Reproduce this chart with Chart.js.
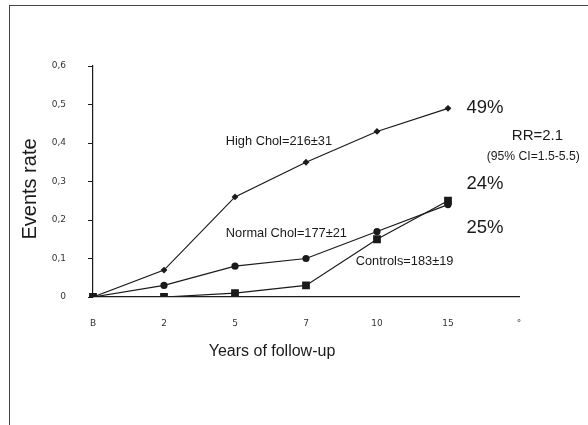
<!DOCTYPE html>
<html>
<head>
<meta charset="utf-8">
<script src="https://cdn.jsdelivr.net/npm/chart.js@4/dist/chart.umd.min.js"></script>
<style>
  body { margin: 0; background: #fff; }
  #wrap { position: relative; width: 588px; height: 425px; }
  #frame {
    position: absolute; left: 9px; top: 5px; right: 0; bottom: 0;
    border-left: 1.5px solid #444; border-top: 1.5px solid #444;
    pointer-events: none;
  }
</style>
</head>
<body>
<div id="wrap">
  <canvas id="chart"></canvas>
  <div id="frame"></div>
</div>
<script>
const years = ['B', '2', '5', '7', '10', '15', '°']
const highChol = [0, 0.07, 0.26, 0.35, 0.43, 0.49]
const normalChol = [0, 0.03, 0.08, 0.10, 0.17, 0.24]
const controls = [0, 0, 0.01, 0.03, 0.15, 0.25]
const yTicks = [0, 0.1, 0.2, 0.3, 0.4, 0.5, 0.6]

// text notes placed in data space (x = category index, y = rate)
const notes = [
  { text: '49%', x: 5.26, y: 0.49, size: 18.5, align: 'left' },
  { text: '24%', x: 5.26, y: 0.293, size: 18.5, align: 'left' },
  { text: '25%', x: 5.26, y: 0.179, size: 18.5, align: 'left' },
  { text: 'RR=2.1', x: 6.26, y: 0.418, size: 15, align: 'center' },
  { text: '(95% CI=1.5-5.5)', x: 6.2, y: 0.364, size: 12.2, align: 'center' },
  { text: 'High Chol=216±31', x: 1.87, y: 0.403, size: 12.8, align: 'left' },
  { text: 'Normal Chol=177±21', x: 1.87, y: 0.164, size: 12.8, align: 'left' },
  { text: 'Controls=183±19', x: 3.7, y: 0.091, size: 12.8, align: 'left' }
]

const ink = '#1a1a1a'
const sans = "'Liberation Sans', Arial, sans-serif"

const notesPlugin = {
  id: 'notes',
  afterDraw(chart) {
    const { ctx, chartArea, scales: { x, y } } = chart
    ctx.save()
    ctx.fillStyle = ink
    ctx.textBaseline = 'middle'
    notes.forEach(n => {
      ctx.font = n.size + 'px ' + sans
      ctx.textAlign = n.align
      ctx.fillText(n.text, x.getPixelForValue(n.x), y.getPixelForValue(n.y))
    })

    // axis titles
    ctx.font = '16px ' + sans
    ctx.textAlign = 'center'
    ctx.fillText('Years of follow-up', chartArea.left + 179, chartArea.bottom + 55)

    ctx.translate(30, chartArea.top + 123)
    ctx.rotate(-Math.PI / 2)
    ctx.font = '20px ' + sans
    ctx.fillText('Events rate', 0, 0)
    ctx.restore()
  }
}

function series(data, style, radius) {
  return {
    data,
    borderColor: ink,
    backgroundColor: ink,
    borderWidth: 1.2,
    pointStyle: style,
    pointRadius: radius,
    pointBorderWidth: 0,
    tension: 0
  }
}

new Chart(document.getElementById('chart'), {
  type: 'line',
  data: {
    labels: years,
    datasets: [
      series(highChol, 'rectRot', 3.4),
      series(normalChol, 'circle', 3.6),
      series(controls, 'rect', 5.5)
    ]
  },
  options: {
    responsive: true,
    maintainAspectRatio: false,
    animation: false,
    events: [],
    layout: { padding: { left: 12, top: 66, right: 69, bottom: 62 } },
    plugins: {
      legend: { display: false },
      tooltip: { enabled: false }
    },
    scales: {
      x: {
        type: 'category',
        offset: false,
        grid: { display: false, drawTicks: false },
        border: { display: true, color: ink, width: 1.2 },
        ticks: {
          padding: 21,
          color: '#333',
          maxRotation: 0,
          autoSkip: false,
          font: { family: "'DejaVu Sans'", size: 9 }
        },
        afterFit(scale) { scale.height = 66 }
      },
      y: {
        min: 0,
        max: 0.6,
        afterBuildTicks(scale) {
          scale.ticks = yTicks.map(v => ({ value: v }))
        },
        grid: {
          display: true,
          drawOnChartArea: false,
          drawTicks: true,
          tickLength: 5,
          color: ink
        },
        border: { display: true, color: ink, width: 1.2 },
        ticks: {
          padding: 22,
          color: '#333',
          font: { family: "'DejaVu Sans'", size: 9 },
          callback: v => v === 0 ? '0' : v.toFixed(1).replace('.', ',')
        },
        afterFit(scale) { scale.width = 81 }
      }
    }
  },
  plugins: [notesPlugin]
})
</script>
</body>
</html>
